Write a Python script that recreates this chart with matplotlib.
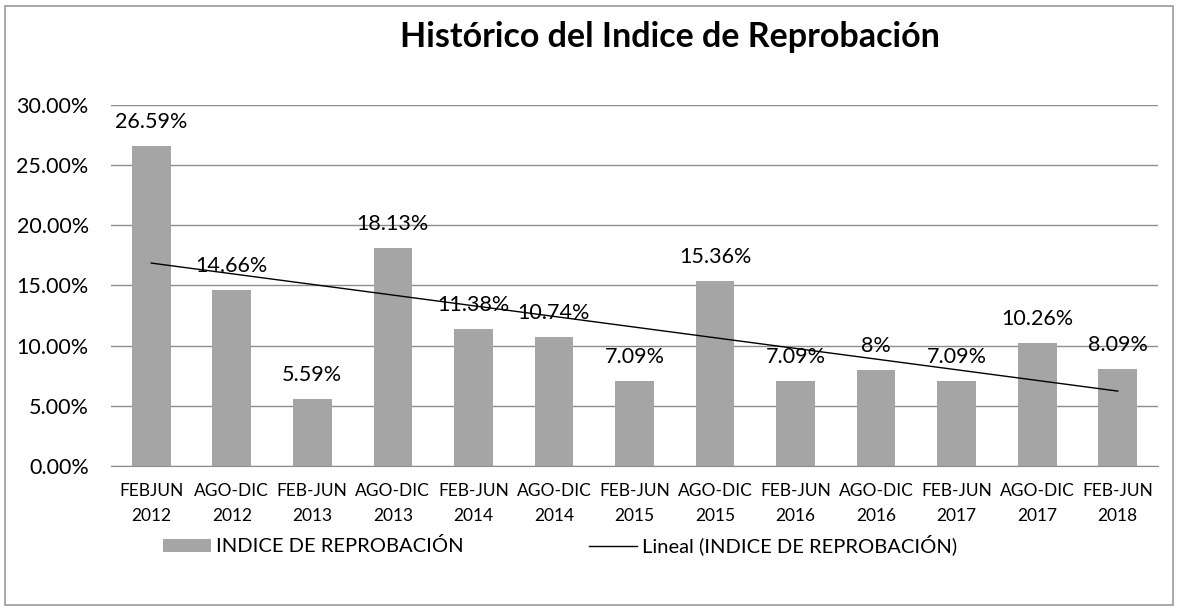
import numpy as np
import matplotlib
matplotlib.use("Agg")
from matplotlib import pyplot as plt
from matplotlib.patches import Rectangle

plt.rcParams['font.family'] = ['Lato', 'DejaVu Sans']

# data
periods = ['FEBJUN\n2012', 'AGO-DIC\n2012', 'FEB-JUN\n2013', 'AGO-DIC\n2013',
           'FEB-JUN\n2014', 'AGO-DIC\n2014', 'FEB-JUN\n2015', 'AGO-DIC\n2015',
           'FEB-JUN\n2016', 'AGO-DIC\n2016', 'FEB-JUN\n2017', 'AGO-DIC\n2017',
           'FEB-JUN\n2018']
indice = [26.59, 14.66, 5.59, 18.13, 11.38, 10.74, 7.09, 15.36, 7.09, 8.00, 7.09, 10.26, 8.09]
labels = ['26.59%', '14.66%', '5.59%', '18.13%', '11.38%', '10.74%', '7.09%',
          '15.36%', '7.09%', '8%', '7.09%', '10.26%', '8.09%']

grey = '#a5a5a5'
gridc = '#8c8c8c'

fig = plt.figure(figsize=(11.79, 6.11), dpi=100)
fig.patches.append(Rectangle((5 / 1179, 6 / 611), 1168 / 1179, 599 / 611,
                             transform=fig.transFigure, fill=False,
                             edgecolor='#9a9a9a', linewidth=1.2))
ax = fig.add_axes([0.0941, 0.2373, 0.8881, 0.5909])

x = np.arange(len(indice))
bars = ax.bar(x, indice, width=0.48, color=grey, zorder=2)

# linear trend line (like excel "Lineal")
m, b = np.polyfit(x, indice, 1)
trend, = ax.plot(x, m * x + b, color='black', linewidth=1, zorder=3)

for xi, v, t in zip(x, indice, labels):
    ax.annotate(t, (xi, v), xytext=(0, 10), textcoords='offset points',
                ha='center', va='bottom', fontsize=15.5, zorder=4)

ax.set_xlim(-0.5, len(indice) - 0.5)
ax.set_ylim(0, 30)
ax.set_yticks(np.arange(0, 31, 5))
ax.set_yticklabels(['%.2f%%' % t for t in np.arange(0, 31, 5)], fontsize=15.5)
ax.set_xticks(x)
ax.set_xticklabels(periods, fontsize=12.5, linespacing=1.75)
ax.tick_params(length=0)
ax.tick_params(axis='y', pad=16)
ax.tick_params(axis='x', pad=12)
ax.yaxis.grid(True, color=gridc, linewidth=1, zorder=0)
ax.set_axisbelow(True)
for s in ['top', 'right', 'left']:
    ax.spines[s].set_visible(False)
ax.spines['bottom'].set_color(gridc)

fig.text(0.568, 0.94, 'Histórico del Indice de Reprobación', ha='center',
         va='center', fontsize=24.5, fontweight='bold')

fig.legend([bars, trend], ['INDICE DE REPROBACIÓN', 'Lineal (INDICE DE REPROBACIÓN)'],
           loc='center', bbox_to_anchor=(0.475, 0.108), ncol=2, frameon=False,
           fontsize=14.5, handlelength=2.4, handleheight=0.6, handletextpad=0.25,
           columnspacing=6.2)

fig.savefig('out.png', dpi=100)
